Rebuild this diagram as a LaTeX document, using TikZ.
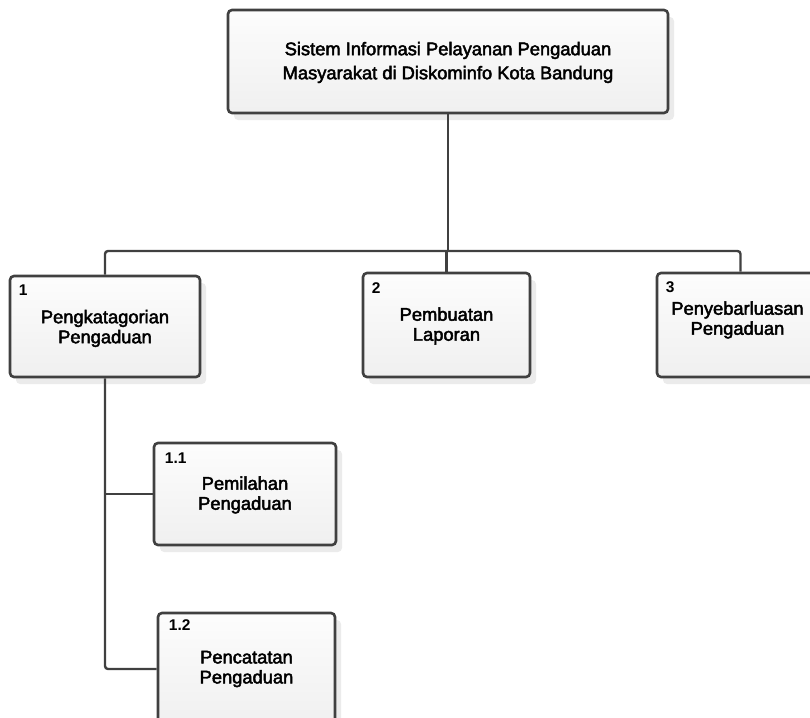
\documentclass[tikz,border=0pt]{standalone}
\usepackage{fontspec}
\setmainfont{Liberation Sans}
\newfontfamily\lblfont{Liberation Sans}[FakeBold=2.5]
\newfontfamily\numfont{Liberation Sans Bold}
\usetikzlibrary{shadows,calc}
\definecolor{edge}{HTML}{404040}
\begin{document}
\begin{tikzpicture}[x=1pt,y=-1pt,
  boxnode/.style={draw=edge, line width=2.6pt, rounded corners=4pt,
    top color=black!1, bottom color=black!6, inner sep=0pt,
    drop shadow={shadow xshift=6pt, shadow yshift=-7pt, fill=black!8, opacity=1}},
  titletxt/.style={align=center, inner sep=0pt, text=black,
    font=\lblfont\fontsize{18.3}{24}\selectfont},
  boxtxt/.style={align=center, inner sep=0pt, text=black,
    font=\lblfont\fontsize{18.3}{20}\selectfont},
  numtxt/.style={anchor=north west, inner sep=0pt, text=black,
    font=\numfont\fontsize{15.5}{17}\selectfont},
  conn/.style={draw=edge, line width=2.4pt, rounded corners=3pt}
]
\useasboundingbox (0,0) rectangle (810,717);
\clip (0,0) rectangle (810,717);

% boxes
\node[boxnode, minimum width=440pt, minimum height=103pt] (top) at (448,61.5) {};
\node[boxnode, minimum width=190pt, minimum height=101pt] (b1) at (105,326.5) {};
\node[boxnode, minimum width=167pt, minimum height=104pt] (b2) at (446.5,325) {};
\node[boxnode, minimum width=167pt, minimum height=104pt] (b3) at (740.5,325) {};
\node[boxnode, minimum width=182pt, minimum height=102pt] (b11) at (245,494) {};
\node[boxnode, minimum width=177pt, minimum height=112pt] (b12) at (246.5,669) {};

% connectors
\coordinate (bus) at (448,251);
\draw[conn] (top.south) -- (bus);
\draw[conn] (b1.north) -- (b1.north |- bus) -- (b3.north |- bus) -- (b3.north);
\draw[conn] (b2.north) -- (b2.north |- bus);
\draw[conn] (b1.south) -- (b1.south |- b12.west) -- (b12.west);
\draw[conn] (b1.south |- b11.west) -- (b11.west);

% texts
\node[titletxt] (tt) at ($(top.center)+(0,1)$) {Sistem Informasi Pelayanan Pengaduan\\Masyarakat di Diskominfo Kota Bandung};
\node[boxtxt] (t1) at ($(b1.center)+(0,2)$) {Pengkatagorian\\Pengaduan};
\node[boxtxt] (t2) at ($(b2.center)+(0,1)$) {Pembuatan\\Laporan};
\node[boxtxt] (t3) at ($(b3.center)+(-3,-5)$) {Penyebarluasan\\Pengaduan};
\node[boxtxt] (t11) at ($(b11.center)+(0,1)$) {Pemilahan\\Pengaduan};
\node[boxtxt] (t12) at ($(b12.center)+(0,0)$) {Pencatatan\\Pengaduan};

\node[numtxt] (n1) at ($(b1.north west)+(10,10)$) {1};
\node[numtxt] (n2) at ($(b2.north west)+(10,11)$) {2};
\node[numtxt] (n3) at ($(b3.north west)+(10,10)$) {3};
\node[numtxt] (n11) at ($(b11.north west)+(12,11)$) {1.1};
\node[numtxt] (n12) at ($(b12.north west)+(12,8)$) {1.2};
\end{tikzpicture}
\end{document}
